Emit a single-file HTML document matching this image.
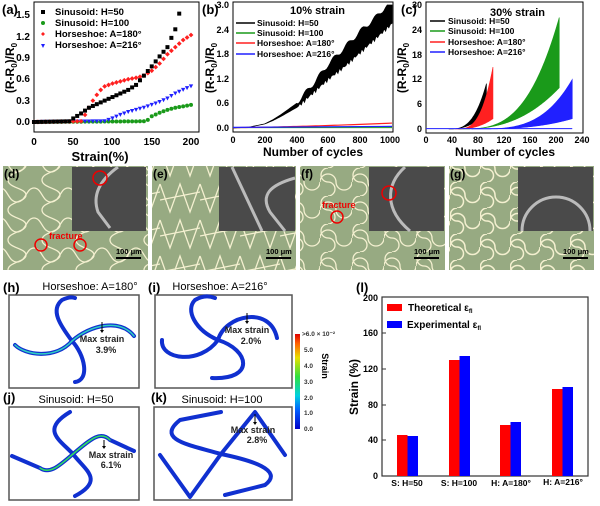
<!DOCTYPE html>
<html><head><meta charset="utf-8"><style>
html,body{margin:0;padding:0;background:#fff;}
svg{display:block;font-family:"Liberation Sans",Arial,sans-serif;}
.b{font-weight:bold;}
</style></head><body>
<svg id="s" width="600" height="506" viewBox="0 0 600 506" xmlns="http://www.w3.org/2000/svg">
<defs>
<pattern id="pd" width="34" height="30" patternUnits="userSpaceOnUse">
<path d="M0 8 C8 8 8 22 17 22 C26 22 26 8 34 8" fill="none" stroke="#f4f0d0" stroke-width="1.3"/>
<path d="M8 0 C8 8 26 8 26 15 C26 22 8 22 8 30" fill="none" stroke="#f4f0d0" stroke-width="1.3"/>
</pattern>
<pattern id="pe" width="40" height="36" patternUnits="userSpaceOnUse">
<path d="M0 4 L10 32 L20 4 L30 32 L40 4" fill="none" stroke="#f4f0d0" stroke-width="1.3"/>
<path d="M0 20 L40 12" fill="none" stroke="#f4f0d0" stroke-width="1.3"/>
</pattern>
<pattern id="pf" width="32" height="28" patternUnits="userSpaceOnUse">
<path d="M0 14 A8 8 0 0 1 16 14 A8 8 0 0 0 32 14" fill="none" stroke="#f4f0d0" stroke-width="1.3"/>
<path d="M8 0 A7 7 0 0 0 8 14 A7 7 0 0 1 8 28" fill="none" stroke="#f4f0d0" stroke-width="1.3"/>
</pattern>
<pattern id="pg" width="30" height="26" patternUnits="userSpaceOnUse">
<path d="M0 13 A7.5 7.5 0 0 1 15 13 A7.5 7.5 0 0 0 30 13" fill="none" stroke="#f4f0d0" stroke-width="1.5"/>
<path d="M7 0 A6.5 6.5 0 0 0 7 13 A6.5 6.5 0 0 1 7 26" fill="none" stroke="#f4f0d0" stroke-width="1.5"/>
</pattern>
<linearGradient id="cb" x1="0" y1="1" x2="0" y2="0">
<stop offset="0" stop-color="#0000c8"/><stop offset="0.2" stop-color="#0060ff"/><stop offset="0.35" stop-color="#00d0e0"/><stop offset="0.55" stop-color="#30e040"/><stop offset="0.75" stop-color="#e8e000"/><stop offset="0.9" stop-color="#ff6000"/><stop offset="1" stop-color="#e00000"/>
</linearGradient>
</defs>

<!-- (a) -->
<text x="2" y="14" font-size="13" class="b">(a)</text>
<rect x="34" y="2" width="165" height="130" fill="none" stroke="#000" stroke-width="1"/>
<g font-size="10" text-anchor="end" class="b">
<text x="30" y="125">0.0</text><text x="30" y="104">0.3</text><text x="30" y="82">0.6</text><text x="30" y="61">0.9</text><text x="30" y="40">1.2</text><text x="30" y="18">1.5</text>
</g>
<g font-size="10" text-anchor="middle" class="b">
<text x="34" y="145">0</text><text x="73" y="145">50</text><text x="112" y="145">100</text><text x="152" y="145">150</text><text x="191" y="145">200</text>
</g>
<text x="100" y="161" font-size="13" text-anchor="middle" class="b">Strain(%)</text>
<text transform="translate(14,68) rotate(-90)" font-size="12" text-anchor="middle" class="b">(R-R<tspan font-size="8" dy="3">0</tspan><tspan dy="-3">)/R</tspan><tspan font-size="8" dy="3">0</tspan></text>
<g id="ga"></g>
<g font-size="9.5" class="b">
<rect x="41" y="10" width="4" height="4"/><text x="55" y="15">Sinusoid: H=50</text>
<circle cx="43" cy="23" r="2" fill="#1a9a1a"/><text x="55" y="26">Sinusoid: H=100</text>
<path d="M43 32 l2 2 -2 2 -2 -2z" fill="#ff2020"/><text x="55" y="37">Horseshoe: A=180°</text>
<path d="M41 44 h4 l-2 4z" fill="#2020ff"/><text x="55" y="48">Horseshoe: A=216°</text>
</g>

<!-- (b) -->
<text x="202" y="14" font-size="13" class="b">(b)</text>
<rect x="233" y="2" width="160" height="130" fill="none" stroke="#000"/>
<g font-size="9" text-anchor="end" class="b">
<text x="229" y="131">0.0</text><text x="229" y="106">0.6</text><text x="229" y="82">1.2</text><text x="229" y="57">1.8</text><text x="229" y="33">2.4</text><text x="229" y="8">3.0</text>
</g>
<g font-size="9" text-anchor="middle" class="b">
<text x="233" y="143">0</text><text x="265" y="143">200</text><text x="297" y="143">400</text><text x="328" y="143">600</text><text x="360" y="143">800</text><text x="390" y="143">1000</text>
</g>
<text x="313" y="156" font-size="12" text-anchor="middle" class="b">Number of cycles</text>
<text transform="translate(214,68) rotate(-90)" font-size="12" text-anchor="middle" class="b">(R-R<tspan font-size="8" dy="3">0</tspan><tspan dy="-3">)/R</tspan><tspan font-size="8" dy="3">0</tspan></text>
<g id="gb"></g>
<text x="290" y="14" font-size="11" class="b">10% strain</text>
<g font-size="8.5" class="b">
<line x1="236" y1="23" x2="255" y2="23" stroke="#000" stroke-width="1.5"/><text x="257" y="26">Sinusoid: H=50</text>
<line x1="236" y1="33" x2="255" y2="33" stroke="#1a9a1a" stroke-width="1.5"/><text x="257" y="36">Sinusoid: H=100</text>
<line x1="236" y1="43" x2="255" y2="43" stroke="#ff2020" stroke-width="1.5"/><text x="257" y="46">Horseshoe: A=180°</text>
<line x1="236" y1="54" x2="255" y2="54" stroke="#2020ff" stroke-width="1.5"/><text x="257" y="57">Horseshoe: A=216°</text>
</g>

<!-- (c) -->
<text x="401" y="14" font-size="13" class="b">(c)</text>
<rect x="426" y="2" width="157" height="131" fill="none" stroke="#000"/>
<g font-size="9" text-anchor="end" class="b">
<text x="422" y="132">0</text><text x="422" y="107">6</text><text x="422" y="82">12</text><text x="422" y="58">18</text><text x="422" y="33">24</text><text x="422" y="8">30</text>
</g>
<g font-size="9" text-anchor="middle" class="b">
<text x="426" y="143">0</text><text x="452" y="143">40</text><text x="478" y="143">80</text><text x="504" y="143">120</text><text x="530" y="143">160</text><text x="556" y="143">200</text><text x="582" y="143">240</text>
</g>
<text x="505" y="156" font-size="12" text-anchor="middle" class="b">Number of cycles</text>
<text transform="translate(406,68) rotate(-90)" font-size="12" text-anchor="middle" class="b">(R-R<tspan font-size="8" dy="3">0</tspan><tspan dy="-3">)/R</tspan><tspan font-size="8" dy="3">0</tspan></text>
<g id="gc"></g>
<text x="490" y="16" font-size="11" class="b">30% strain</text>
<g font-size="8.5" class="b">
<line x1="430" y1="21" x2="445" y2="21" stroke="#000" stroke-width="1.5"/><text x="448" y="24">Sinusoid: H=50</text>
<line x1="430" y1="31" x2="445" y2="31" stroke="#1a9a1a" stroke-width="1.5"/><text x="448" y="34">Sinusoid: H=100</text>
<line x1="430" y1="42" x2="445" y2="42" stroke="#ff2020" stroke-width="1.5"/><text x="448" y="45">Horseshoe: A=180°</text>
<line x1="430" y1="52" x2="445" y2="52" stroke="#2020ff" stroke-width="1.5"/><text x="448" y="55">Horseshoe: A=216°</text>
</g>

<!-- photos -->
<g>
<rect x="3" y="166" width="145" height="104" fill="#97aa82"/><rect x="3" y="166" width="145" height="104" fill="url(#pd)"/>
<rect x="72" y="167" width="74" height="64" fill="#4a4a4a"/>
<path d="M118 167 C100 180 92 195 98 212 L110 228" fill="none" stroke="#bbb" stroke-width="3"/>
<circle cx="100" cy="178" r="7" fill="none" stroke="#e00" stroke-width="1.5"/>
<circle cx="41" cy="245" r="6" fill="none" stroke="#e00" stroke-width="1.5"/><circle cx="80" cy="245" r="6" fill="none" stroke="#e00" stroke-width="1.5"/>
<text x="49" y="239" font-size="9" fill="#e00" class="b">fracture</text>
<text x="4" y="178" font-size="12" class="b">(d)</text>
<line x1="116" y1="258" x2="141" y2="258" stroke="#000" stroke-width="2"/><text x="116" y="254" font-size="7.5" class="b">100 μm</text>

<rect x="152" y="166" width="144" height="104" fill="#97aa82"/><rect x="152" y="166" width="144" height="104" fill="url(#pe)"/>
<rect x="219" y="167" width="76" height="64" fill="#4a4a4a"/>
<path d="M232 167 L262 231" fill="none" stroke="#bbb" stroke-width="3"/><path d="M295 178 C270 185 260 195 270 212 L285 231" fill="none" stroke="#bbb" stroke-width="3"/>
<text x="153" y="178" font-size="12" class="b">(e)</text>
<line x1="266" y1="258" x2="291" y2="258" stroke="#000" stroke-width="2"/><text x="266" y="254" font-size="7.5" class="b">100 μm</text>

<rect x="300" y="166" width="145" height="104" fill="#97aa82"/><rect x="300" y="166" width="145" height="104" fill="url(#pf)"/>
<rect x="369" y="167" width="75" height="64" fill="#4a4a4a"/>
<path d="M405 167 C385 185 385 210 410 231" fill="none" stroke="#bbb" stroke-width="3"/>
<circle cx="389" cy="193" r="7" fill="none" stroke="#e00" stroke-width="1.5"/>
<circle cx="337" cy="217" r="6" fill="none" stroke="#e00" stroke-width="1.5"/>
<text x="322" y="208" font-size="9" fill="#e00" class="b">fracture</text>
<text x="301" y="178" font-size="12" class="b">(f)</text>
<line x1="414" y1="258" x2="439" y2="258" stroke="#000" stroke-width="2"/><text x="414" y="254" font-size="7.5" class="b">100 μm</text>

<rect x="449" y="166" width="145" height="104" fill="#97aa82"/><rect x="449" y="166" width="145" height="104" fill="url(#pg)"/>
<rect x="518" y="167" width="75" height="64" fill="#4a4a4a"/>
<path d="M522 231 A33 33 0 0 1 590 231" fill="none" stroke="#bbb" stroke-width="3"/>
<text x="450" y="178" font-size="12" class="b">(g)</text>
<line x1="563" y1="258" x2="588" y2="258" stroke="#000" stroke-width="2"/><text x="563" y="254" font-size="7.5" class="b">100 μm</text>
</g>

<!-- h-k -->
<text x="3" y="292" font-size="13" class="b">(h)</text>
<text x="90" y="290" font-size="11" text-anchor="middle">Horseshoe: A=180°</text>
<rect x="9" y="295" width="130" height="93" fill="#fff" stroke="#555" stroke-width="1.5"/>
<g fill="none" stroke-linecap="round">
<g stroke="#1030d0" stroke-width="4">
<path d="M72 341 C60 325 50 310 62 300 Q70 296 75 298"/>
<path d="M72 341 C90 325 120 318 134 336"/>
<path d="M72 341 C85 355 90 380 75 382"/>
<path d="M72 341 C55 360 25 355 15 345"/>
</g>
<g stroke="#30d0c0" stroke-width="1.5">
<path d="M72 341 C90 325 120 318 134 336"/><path d="M72 341 C55 360 25 355 15 345"/>
</g>
</g>
<line x1="102" y1="322" x2="102" y2="332" stroke="#000"/><path d="M100 330 l2 3 2 -3z"/>
<text x="102" y="342" font-size="9" text-anchor="middle" class="b" fill="#222">Max strain</text>
<text x="106" y="353" font-size="9" text-anchor="middle" class="b" fill="#222">3.9%</text>

<text x="148" y="292" font-size="13" class="b">(i)</text>
<text x="220" y="290" font-size="11" text-anchor="middle">Horseshoe: A=216°</text>
<rect x="155" y="295" width="137" height="93" fill="#fff" stroke="#555" stroke-width="1.5"/>
<g fill="none" stroke="#1030d0" stroke-width="4" stroke-linecap="round">
<path d="M218 340 C195 330 185 310 195 300 Q205 294 215 298"/>
<path d="M218 340 C225 315 270 305 277 338"/>
<path d="M218 340 C250 350 255 380 212 378"/>
<path d="M218 340 C200 365 160 360 162 340"/>
</g>
<line x1="247" y1="313" x2="247" y2="323" stroke="#000"/><path d="M245 321 l2 3 2 -3z"/>
<text x="247" y="333" font-size="9" text-anchor="middle" class="b" fill="#222">Max strain</text>
<text x="251" y="344" font-size="9" text-anchor="middle" class="b" fill="#222">2.0%</text>

<text x="3" y="402" font-size="13" class="b">(j)</text>
<text x="76" y="403" font-size="11" text-anchor="middle">Sinusoid: H=50</text>
<rect x="9" y="407" width="130" height="93" fill="#fff" stroke="#555" stroke-width="1.5"/>
<g fill="none" stroke-linecap="round">
<g stroke="#1030d0" stroke-width="4">
<path d="M73 454 C60 440 40 430 70 412"/>
<path d="M73 454 C90 440 100 430 110 440 L134 451"/>
<path d="M73 454 C85 470 105 480 75 496"/>
<path d="M73 454 C60 465 50 475 40 468 L12 456"/>
</g>
<g stroke="#30e060" stroke-width="1.5"><path d="M73 454 C90 440 100 430 110 440"/><path d="M73 454 C60 465 50 475 40 468"/></g>
</g>
<line x1="104" y1="440" x2="104" y2="448" stroke="#000"/><path d="M102 446 l2 3 2 -3z"/>
<text x="111" y="458" font-size="9" text-anchor="middle" class="b" fill="#222">Max strain</text>
<text x="111" y="468" font-size="9" text-anchor="middle" class="b" fill="#222">6.1%</text>

<text x="151" y="402" font-size="13" class="b">(k)</text>
<text x="222" y="403" font-size="11" text-anchor="middle">Sinusoid: H=100</text>
<rect x="154" y="407" width="138" height="93" fill="#fff" stroke="#555" stroke-width="1.5"/>
<g fill="none" stroke="#1030d0" stroke-width="4" stroke-linecap="round" stroke-linejoin="round">
<path d="M221 454 C190 445 155 440 180 420 L221 412"/>
<path d="M221 454 L255 412 L285 455"/>
<path d="M221 454 C250 460 285 470 265 485 L225 495"/>
<path d="M221 454 L190 497 L160 455"/>
</g>
<line x1="255" y1="414" x2="255" y2="424" stroke="#000"/><path d="M253 422 l2 3 2 -3z"/>
<text x="253" y="433" font-size="9" text-anchor="middle" class="b" fill="#222">Max strain</text>
<text x="257" y="443" font-size="9" text-anchor="middle" class="b" fill="#222">2.8%</text>

<rect x="295" y="334" width="5" height="95" fill="url(#cb)"/>
<g font-size="6.5" class="b" fill="#333">
<text x="302" y="336">&gt;6.0 × 10⁻²</text><text x="304" y="352">5.0</text><text x="304" y="368">4.0</text><text x="304" y="384">3.0</text><text x="304" y="400">2.0</text><text x="304" y="415">1.0</text><text x="304" y="431">0.0</text>
</g>
<text transform="translate(322,366) rotate(90)" font-size="9" class="b" text-anchor="middle">Strain</text>

<!-- (l) -->
<text x="356" y="292" font-size="13" class="b">(l)</text>
<rect x="382" y="297" width="206" height="179" fill="none" stroke="#333" stroke-width="1.2"/>
<g font-size="9" text-anchor="end" class="b">
<text x="378" y="479">0</text><text x="378" y="443">40</text><text x="378" y="408">80</text><text x="378" y="372">120</text><text x="378" y="336">160</text><text x="378" y="301">200</text>
</g>
<g stroke="#333"><line x1="382" y1="440" x2="386" y2="440"/><line x1="382" y1="405" x2="386" y2="405"/><line x1="382" y1="369" x2="386" y2="369"/><line x1="382" y1="333" x2="386" y2="333"/></g>
<text transform="translate(358,387) rotate(-90)" font-size="12" text-anchor="middle" class="b">Strain (%)</text>
<g>
<rect x="397" y="435" width="10.5" height="41" fill="#ff0000"/><rect x="407.5" y="436" width="10.5" height="40" fill="#0000ff"/>
<rect x="449" y="360" width="10.5" height="116" fill="#ff0000"/><rect x="459.5" y="356" width="10.5" height="120" fill="#0000ff"/>
<rect x="500" y="425" width="10.5" height="51" fill="#ff0000"/><rect x="510.5" y="422" width="10.5" height="54" fill="#0000ff"/>
<rect x="552" y="389" width="10.5" height="87" fill="#ff0000"/><rect x="562.5" y="387" width="10.5" height="89" fill="#0000ff"/>
</g>
<g font-size="8.5" text-anchor="middle" class="b">
<text x="407" y="486">S: H=50</text><text x="459" y="486">S: H=100</text><text x="511" y="486">H: A=180°</text><text x="563" y="485">H: A=216°</text>
</g>
<rect x="387" y="304" width="15" height="7" fill="#ff0000"/><text x="408" y="311" font-size="10" class="b">Theoretical ε<tspan font-size="6" dy="2">fl</tspan></text>
<rect x="387" y="321" width="15" height="7" fill="#0000ff"/><text x="407" y="328" font-size="10" class="b">Experimental ε<tspan font-size="6" dy="2">fl</tspan></text>
</svg>
<script>
var NS="http://www.w3.org/2000/svg";
function el(p,t,a){var e=document.createElementNS(NS,t);for(var k in a)e.setAttribute(k,a[k]);p.appendChild(e);return e;}
function interp(pts,x){if(x<=pts[0][0])return pts[0][1];for(var i=1;i<pts.length;i++){if(x<=pts[i][0]){var a=pts[i-1],b=pts[i];return a[1]+(b[1]-a[1])*(x-a[0])/(b[0]-a[0]);}}return pts[pts.length-1][1];}
var ga=document.getElementById('ga');
function ax(v){return 34+v*0.785;} function ay(v){return 122-v*71.3;}
var K=[[0,0],[45,0.01],[50,0.05],[60,0.12],[70,0.2],[80,0.25],[90,0.3],[100,0.35],[110,0.4],[120,0.45],[130,0.52],[140,0.65],[150,0.78],[160,0.92],[170,1.05],[175,1.18],[180,1.3],[185,1.52]];
var R=[[0,0],[60,0.01],[65,0.1],[70,0.2],[75,0.3],[80,0.38],[85,0.45],[90,0.5],[100,0.54],[110,0.57],[120,0.6],[130,0.62],[140,0.65],[150,0.72],[160,0.82],[170,0.95],[180,1.05],[190,1.15],[200,1.22]];
var B=[[0,0],[90,0.01],[100,0.05],[110,0.1],[120,0.14],[130,0.17],[140,0.2],[150,0.24],[160,0.28],[170,0.33],[180,0.4],[190,0.45],[200,0.5]];
var G=[[0,0],[140,0.01],[145,0.03],[150,0.08],[160,0.13],[170,0.17],[180,0.2],[190,0.22],[200,0.24]];
for(var s=0;s<=200;s+=5){
 var x=ax(s);
 el(ga,'circle',{cx:x,cy:ay(interp(G,s)),r:2,fill:'#1a9a1a'});
 var y=ay(interp(B,s));el(ga,'path',{d:'M'+(x-2.2)+' '+(y-2)+'h4.4l-2.2 4z',fill:'#2020ff'});
 y=ay(interp(R,s));el(ga,'path',{d:'M'+x+' '+(y-2.4)+'l2.4 2.4-2.4 2.4-2.4-2.4z',fill:'#ff2020'});
 if(s<=185){y=ay(interp(K,s));el(ga,'rect',{x:x-2,y:y-2,width:4,height:4,fill:'#000'});}
}
var gb=document.getElementById('gb');
function bx(v){return 233+v*0.159;} function by(v){return 128-v*41;}
var top1=[[0,0],[100,0.02],[200,0.1],[250,0.2],[300,0.32],[400,0.6],[500,1.05],[600,1.55],[700,1.95],[800,2.35],[900,2.7],[970,3.0]];
var bot1=[[0,0],[100,0.02],[200,0.1],[250,0.18],[300,0.28],[400,0.5],[500,0.85],[600,1.2],[700,1.5],[800,1.85],[900,2.2],[1000,2.55]];
var d='M'+bx(0)+' '+by(0);for(var c=0;c<=970;c+=10)d+=' L'+bx(c)+' '+by(Math.min(3,interp(top1,c)+(c>400?0.06*Math.sin(c*0.7):0)));
d+=' L'+bx(1000)+' '+by(3);for(var c=1000;c>=0;c-=10)d+=' L'+bx(c)+' '+by(interp(bot1,c)+(c>400?0.05*Math.cos(c*0.9):0));d+='Z';
el(gb,'path',{d:d,fill:'#000',stroke:'#000','stroke-width':0.8});
el(gb,'path',{d:'M'+bx(0)+' '+by(0.01)+' L'+bx(1000)+' '+by(0.01),stroke:'#1a9a1a',fill:'none','stroke-width':1});
var dr='M'+bx(0)+' '+by(0.01);for(var c=0;c<=1000;c+=20)dr+=' L'+bx(c)+' '+by(0.01+0.11*Math.pow(c/1000,1.5));
el(gb,'path',{d:dr,stroke:'#ff2020',fill:'none','stroke-width':1.2});
el(gb,'path',{d:'M'+bx(0)+' '+by(0.015)+' L'+bx(1000)+' '+by(0.04),stroke:'#2020ff',fill:'none','stroke-width':1.2});
var gc=document.getElementById('gc');
function cx(v){return 426+v*0.65;} function cy(v){return 129-v*4.13;}
function band(col,x0,x1,topMax,botMax,p){
 var d='M'+cx(x0)+' '+cy(0);
 for(var c=x0;c<=x1;c++){var t=(c-x0)/(x1-x0);d+=' L'+cx(c)+' '+cy(topMax*Math.pow(t,p));}
 for(var c=x1;c>=x0;c--){var t=(c-x0)/(x1-x0);d+=' L'+cx(c)+' '+cy(botMax*Math.pow(t,p*0.8));}
 el(gc,'path',{d:d+'Z',fill:col,stroke:col,'stroke-width':0.6});
}
band('#1a9a1a',50,205,27,10,3.2);
band('#2020ff',70,225,12,2.5,3.5);
band('#000',35,93,11,4,3);
band('#ff2020',45,103,15,2.5,3.2);
el(gc,'line',{x1:cx(0),y1:cy(0.1),x2:cx(225),y2:cy(0.1),stroke:'#2020ff','stroke-width':1});
</script>
</body></html>
